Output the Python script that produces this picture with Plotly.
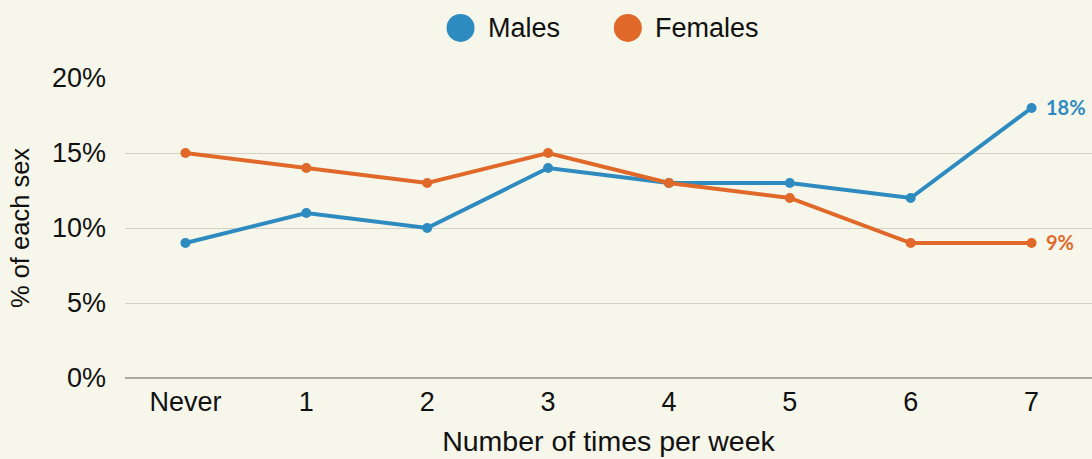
import plotly.graph_objects as go

# chart data
categories = ["Never", "1", "2", "3", "4", "5", "6", "7"]
males = [9, 11, 10, 14, 13, 13, 12, 18]
females = [15, 14, 13, 15, 13, 12, 9, 9]
y_ticks = [0, 5, 10, 15, 20]
y_tick_labels = ["0%", "5%", "10%", "15%", "20%"]

BLUE = "#2E8BC0"
ORANGE = "#E0692A"
BG = "#F6F6EA"
FONT = "Liberation Sans"

fig = go.Figure()
for name, vals, col in [("Males", males, BLUE), ("Females", females, ORANGE)]:
    fig.add_trace(go.Scatter(
        x=categories, y=vals, name=name, mode="lines+markers",
        line=dict(color=col, width=4),
        marker=dict(size=10, color=col),
        cliponaxis=False, showlegend=False))
    # end label
    fig.add_annotation(x=categories[-1], y=vals[-1], text="<b>%d%%</b>" % vals[-1],
                       showarrow=False, xanchor="left", xshift=12, yshift=1,
                       font=dict(family="Lato", size=20, color=col))

# hand-made legend with large dots
legend_items = [("Males", BLUE, 0.347), ("Females", ORANGE, 0.520)]
for name, col, px in legend_items:
    fig.add_shape(type="circle", xref="paper", yref="paper",
                  xsizemode="pixel", ysizemode="pixel",
                  xanchor=px, yanchor=1.167, x0=-14, x1=14, y0=-14, y1=14,
                  fillcolor=col, line=dict(width=0))
    fig.add_annotation(xref="paper", yref="paper", x=px, y=1.167, xshift=25,
                       text=name, showarrow=False, xanchor="left", yanchor="middle",
                       font=dict(family=FONT, size=27, color="#111111"))

fig.update_layout(
    width=1092, height=459,
    margin=dict(l=125, r=0, t=78, b=81),
    paper_bgcolor=BG, plot_bgcolor=BG,
    font=dict(family=FONT, size=27, color="#111111"),
    xaxis=dict(
        type="category", range=[-0.5, 7.5],
        showgrid=False, ticks="", showline=False,
        ticklabelstandoff=5,
        title=dict(text="Number of times per week", standoff=15, font=dict(size=28.5)),
    ),
    yaxis=dict(
        range=[0, 20], tickvals=y_ticks, ticktext=y_tick_labels,
        showgrid=True, gridcolor="#D2D2C6", gridwidth=1,
        zeroline=True, zerolinecolor="#A8A8A0", zerolinewidth=2,
        ticks="", ticklabelstandoff=18,
        title=dict(text="% of each sex", standoff=15, font=dict(size=25.5)),
    ),
)

fig.write_html("out.html", config={"displayModeBar": False},
               post_script="document.body.style.margin='0';"
                           "document.body.style.background='%s';" % BG)
